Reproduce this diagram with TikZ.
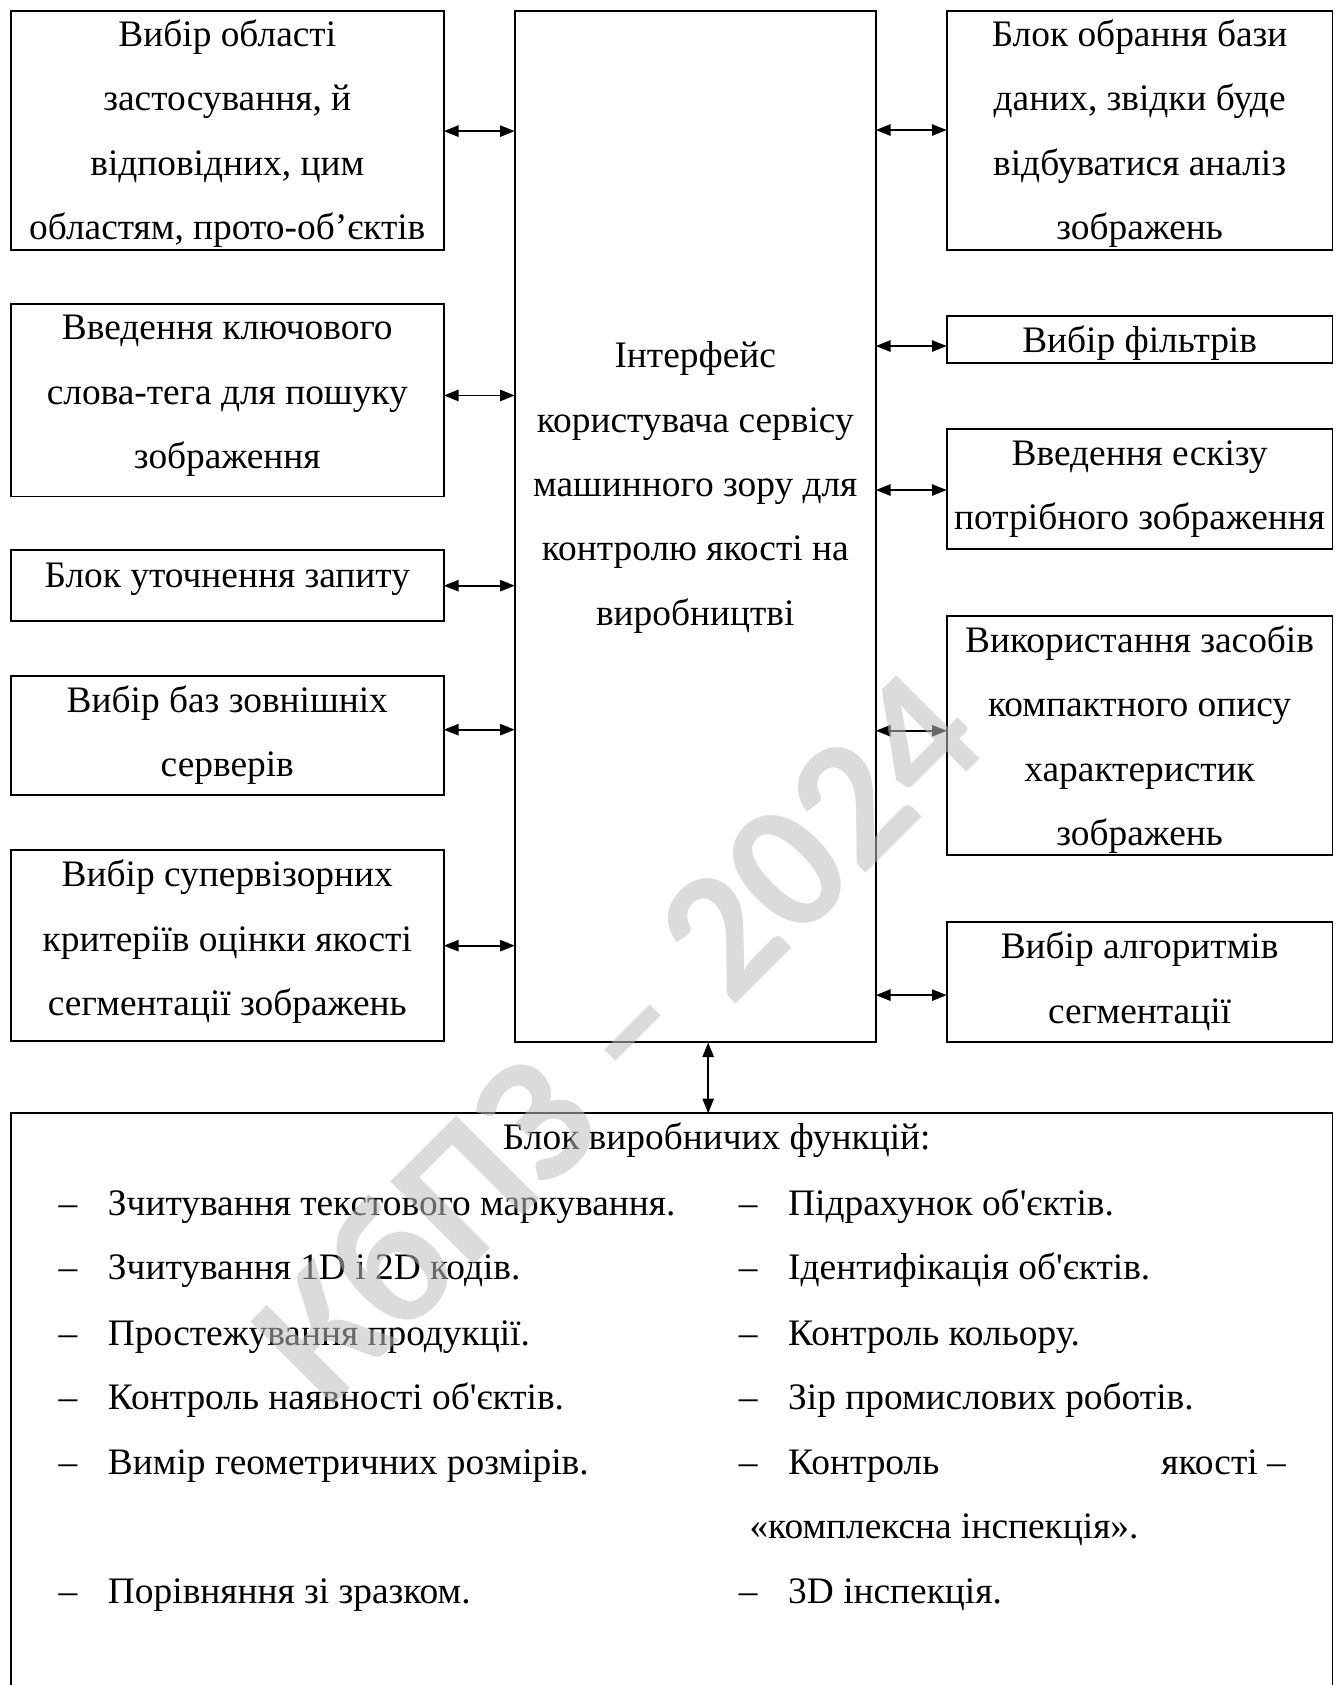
\documentclass[tikz,border=0pt]{standalone}
\usepackage{fontspec}
\setmainfont{Liberation Serif}[Ligatures=TeXOff]
\newfontfamily\wmfont{Carlito}
\usetikzlibrary{arrows.meta,fit}
\tikzset{
  box/.style={draw, line width=0.7pt, inner sep=0pt, outer sep=0pt},
  txt/.style={align=center, anchor=base, inner sep=0pt,
    font=\fontsize{14pt}{24.15pt}\selectfont},
  itm/.style={anchor=base west, inner sep=0pt, font=\fontsize{14pt}{24.15pt}\selectfont},
  biarrow/.style={line width=0.7pt, {Triangle[length=5.5pt,width=4.2pt]}-{Triangle[length=5.5pt,width=4.2pt]}},
  wm/.style={inner sep=0pt, text=black!26, text opacity=0.55,
    font=\fontsize{68pt}{68pt}\wmfont\bfseries}
}
\begin{document}
\begin{tikzpicture}[x=0.4025pt, y=-0.4025pt]
\useasboundingbox (0,0) rectangle (1250,1568);
% left boxes
\node[box, fit={(10,10) (413,233)}] (L1) {};
\node[box, fit={(10,283) (413,462)}] (L2) {};
\node[box, fit={(10,512) (413,578)}] (L3) {};
\node[box, fit={(10,629) (413,740)}] (L4) {};
\node[box, fit={(10,791) (413,969)}] (L5) {};
% center
\node[box, fit={(479,10) (815,970)}] (C) {};
% right boxes
\node[box, fit={(881,10) (1240,233)}] (R1) {};
\node[box, fit={(881,294) (1240,338)}] (R2) {};
\node[box, fit={(881,399) (1240,511)}] (R3) {};
\node[box, fit={(881,573) (1240,796)}] (R4) {};
\node[box, fit={(881,858) (1240,970)}] (R5) {};
% bottom
\node[box, fit={(10,1036) (1240,1620)}] (F) {};

% texts (anchor = baseline of last line)
\node[txt] (tL1) at (211.5,223) {Вибір області\\застосування, й\\відповідних, цим\\областям, прото-об’єктів};
\node[txt] (tL2) at (211.5,436) {Введення ключового\\слова-тега для пошуку\\зображення};
\node[txt] (tL3) at (211.5,547) {Блок уточнення запиту};
\node[txt] (tL4) at (211.5,723) {Вибір баз зовнішніх\\серверів};
\node[txt] (tL5) at (211.5,945) {Вибір супервізорних\\критеріїв оцінки якості\\сегментації зображень};
\node[txt] (tC) at (647,582) {Інтерфейс\\користувача сервісу\\машинного зору для\\контролю якості на\\виробництві};
\node[txt] (tR1) at (1060.5,223) {Блок обрання бази\\даних, звідки буде\\відбуватися аналіз\\зображень};
\node[txt] (tR2) at (1060.5,328) {Вибір фільтрів};
\node[txt] (tR3) at (1060.5,493) {Введення ескізу\\потрібного зображення};
\node[txt] (tR4) at (1060.5,787) {Використання засобів\\компактного опису\\характеристик\\зображень};
\node[txt] (tR5) at (1060.5,952) {Вибір алгоритмів\\сегментації};

% arrows
\draw[biarrow] (L1.east |- 0,122) -- (C.west |- 0,122);
\draw[biarrow] (L2.east |- 0,368) -- (C.west |- 0,368);
\draw[biarrow] (L3.east |- 0,545) -- (C.west |- 0,545);
\draw[biarrow] (L4.east |- 0,679) -- (C.west |- 0,679);
\draw[biarrow] (L5.east |- 0,880) -- (C.west |- 0,880);
\draw[biarrow] (C.east |- 0,121) -- (R1.west |- 0,121);
\draw[biarrow] (C.east |- 0,322) -- (R2.west |- 0,322);
\draw[biarrow] (C.east |- 0,456) -- (R3.west |- 0,456);
\draw[biarrow] (C.east |- 0,680) -- (R4.west |- 0,680);
\draw[biarrow] (C.east |- 0,926) -- (R5.west |- 0,926);
\coordinate (vx) at (659,0);
\draw[biarrow] (vx |- C.south) -- (vx |- F.north);

% bottom block text
\node[txt] (fh) at (667,1070) {Блок виробничих функцій:};
\foreach \yy/\a/\b [count=\i] in {
 1131/Зчитування текстового маркування./Підрахунок об'єктів.,
 1191/Зчитування 1D і 2D кодів./Ідентифікація об'єктів.,
 1252/Простежування продукції./Контроль кольору.,
 1312/Контроль наявності об'єктів./Зір промислових роботів.}{
  \node[itm] (dl\i) at (54,\yy) {–};
  \node[itm] (il\i) at (100,\yy) {\a};
  \node[itm] (dr\i) at (687,\yy) {–};
  \node[itm] (ir\i) at (733,\yy) {\b};
}
\node[itm] (dl5) at (54,1372) {–};
\node[itm] (il5) at (100,1372) {Вимір геометричних розмірів.};
\node[itm] (dr5) at (687,1372) {–};
\node[itm] (ir5a) at (733,1372) {Контроль};
\node[itm, anchor=base east] (ir5b) at (1197,1372) {якості –};
\node[itm] (ir5c) at (697,1432) {«комплексна інспекція».};
\node[itm] (dl6) at (54,1492) {–};
\node[itm] (il6) at (100,1492) {Порівняння зі зразком.};
\node[itm] (dr6) at (687,1492) {–};
\node[itm] (ir6) at (733,1492) {3D інспекція.};

% watermark
\node[wm, rotate=45] (wmark) at (573,964) {КбПЗ – 2024};
\end{tikzpicture}
\end{document}
